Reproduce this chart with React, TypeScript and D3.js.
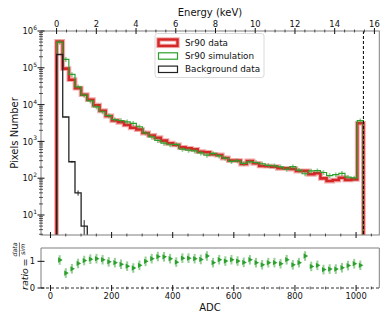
import React from 'react';
import * as d3 from 'd3';

// 50 bins of ~20 ADC between 20 and 1024
const binEdges = d3.range(51).map(i => 20 + i * 20.08);

const dataCounts = [5.2e5, 9.5e4, 4.75e4, 2.8e4, 1.86e4, 1.36e4, 9.6e3, 6.8e3, 4.9e3, 3.7e3,
  3.3e3, 2.8e3, 2.35e3, 2.1e3, 1.69e3, 1.45e3, 1.26e3, 1.05e3, 890, 800,
  690, 650, 610, 525, 505, 446, 427, 354, 303, 300,
  243, 293, 254, 215, 212, 206, 186, 185, 178, 157,
  158, 128, 136, 99, 84, 89, 103, 90, 93, 3100];

const simCounts = [5.0e5, 1.7e5, 6.6e4, 3.04e4, 1.8e4, 1.26e4, 8.7e3, 6.4e3, 5.0e3, 3.9e3,
  3.7e3, 3.4e3, 3.1e3, 2.5e3, 1.69e3, 1.32e3, 1.07e3, 900, 810, 825,
  616, 580, 555, 490, 421, 470, 403, 350, 286, 297,
  253, 276, 267, 247, 223, 217, 204, 175, 205, 165,
  132, 158, 160, 143, 118, 125, 136, 107, 102, 3650];

const bkgCounts = [2.3e5, 4.6e3, 280, 40, 5];

const ratioValues = [1.05, 0.56, 0.72, 0.92, 1.03, 1.08, 1.10, 1.06, 0.98, 0.95,
  0.89, 0.82, 0.75, 0.85, 1.0, 1.10, 1.18, 1.17, 1.10, 0.97,
  1.12, 1.12, 1.10, 1.07, 1.20, 0.95, 1.06, 1.01, 1.06, 1.01,
  0.96, 1.06, 0.95, 0.87, 0.95, 0.95, 0.91, 1.06, 0.87, 0.95,
  1.20, 0.81, 0.85, 0.69, 0.71, 0.71, 0.76, 0.84, 0.91, 0.85];

const simErrFrac = 0.15;
const ratioErr = 0.18;

const adcTicks = [0, 200, 400, 600, 800, 1000];
const keVTicks = [0, 2, 4, 6, 8, 10, 12, 14, 16];
const decadeTicks = [1, 2, 3, 4, 5, 6];
const ratioTicks = [0, 1];
const adcPerKeV = 65;
const adcOffset = 20;
const saturation = 1024;

const W = 390, H = 323;
const L = 41, R = 379.3;
const mainTop = 31, mainBot = 235;
const ratTop = 248, ratBot = 288;
const font = 'DejaVu Sans, sans-serif';

const x = d3.scaleLinear().domain([-31, 1076]).range([L, R]);
const xKeV = d3.scaleLinear()
  .domain([(-31 - adcOffset) / adcPerKeV, (1076 - adcOffset) / adcPerKeV])
  .range([L, R]);
const y = d3.scaleLog().domain([2.86, 1e6]).range([mainBot, mainTop]);
const yr = d3.scaleLinear().domain([0, 1.5]).range([ratBot, ratTop]);

const floor = 0.5;
const line = d3.line<[number, number]>()
  .x(d => x(d[0]))
  .y(d => y(Math.max(d[1], floor)));

function stepPath(vals: number[]) {
  const pts: [number, number][] = [[binEdges[0], floor]];
  vals.forEach((v, i) => {
    pts.push([binEdges[i], v], [binEdges[i + 1], v]);
  });
  pts.push([binEdges[vals.length], floor]);
  return line(pts) || '';
}

const centers = dataCounts.map((_, i) => (binEdges[i] + binEdges[i + 1]) / 2);

export default function App() {
  const minorX = d3.range(50, 1076, 50).filter(v => v % 200 !== 0);
  const minorKeV = d3.range(0, 16.3, 0.5).filter(v => v % 2 !== 0);
  const minorY: number[] = [];
  for (let e = 0; e < 6; e++) {
    for (let m = 2; m <= 9; m++) {
      const v = m * Math.pow(10, e);
      if (v > 2.86 && v < 1e6) minorY.push(v);
    }
  }
  const tri = d3.symbol().type(d3.symbolTriangle).size(12)() || '';

  return (
    <svg width={W} height={H} style={{ position: 'absolute', left: 0, top: 0, background: '#fff' }}
      fontFamily={font}>
      <defs>
        <clipPath id="mainClip">
          <rect x={L} y={mainTop} width={R - L} height={mainBot - mainTop} />
        </clipPath>
      </defs>

      {/* main histograms */}
      <g clipPath="url(#mainClip)">
        <path d={stepPath(dataCounts)} fill="none" stroke="#ee8f8f" strokeWidth={4.8} opacity={0.75} />
        <path d={stepPath(dataCounts)} fill="none" stroke="#d62728" strokeWidth={2.6} />
        <path d={stepPath(simCounts)} fill="none" stroke="#2ca02c" strokeWidth={1.2} />
        {simCounts.map((v, i) => (
          <line key={'se' + i} x1={x(centers[i])} x2={x(centers[i])}
            y1={y(v * (1 - simErrFrac))} y2={y(v * (1 + simErrFrac))}
            stroke="#2ca02c" strokeOpacity={0.55} strokeWidth={1.6} />
        ))}
        <path d={stepPath(bkgCounts)} fill="none" stroke="#222" strokeWidth={1.3} />
        {bkgCounts.map((v, i) => (
          <line key={'be' + i} x1={x(centers[i])} x2={x(centers[i])}
            y1={y(Math.max(v - Math.sqrt(v), floor))} y2={y(v + Math.sqrt(v))}
            stroke="#222" strokeWidth={1} />
        ))}
        <line x1={x(saturation)} x2={x(saturation)} y1={mainTop} y2={mainBot}
          stroke="#000" strokeWidth={1} strokeDasharray="3,2" />
      </g>

      {/* main spines */}
      <rect x={L} y={mainTop} width={R - L} height={mainBot - mainTop} fill="none" stroke="#7f7f7f" strokeWidth={1} />

      {/* bottom ADC ticks on main */}
      {adcTicks.map(t => (
        <line key={'mx' + t} x1={x(t)} x2={x(t)} y1={mainBot - 3} y2={mainBot + 3} stroke="#111" strokeWidth={1} />
      ))}
      {minorX.map(t => (
        <line key={'mnx' + t} x1={x(t)} x2={x(t)} y1={mainBot - 1.5} y2={mainBot + 1.5} stroke="#111" strokeWidth={0.7} />
      ))}

      {/* top energy axis */}
      {keVTicks.map(t => (
        <g key={'k' + t}>
          <line x1={xKeV(t)} x2={xKeV(t)} y1={mainTop - 3} y2={mainTop + 3} stroke="#111" strokeWidth={1} />
          <text x={xKeV(t)} y={27.3} fontSize={8.4} textAnchor="middle" fill="#111">{t}</text>
        </g>
      ))}
      {minorKeV.map(t => (
        <line key={'mk' + t} x1={xKeV(t)} x2={xKeV(t)} y1={mainTop - 1.5} y2={mainTop + 1.5} stroke="#111" strokeWidth={0.7} />
      ))}
      <text x={210} y={16.3} fontSize={10} textAnchor="middle" fill="#111">Energy (keV)</text>

      {/* log y axis */}
      {decadeTicks.map(e => (
        <g key={'d' + e}>
          <line x1={L - 3.5} x2={L + 3.5} y1={y(Math.pow(10, e))} y2={y(Math.pow(10, e))} stroke="#111" strokeWidth={1} />
          <text x={37} y={y(Math.pow(10, e)) + 3.2} fontSize={8.4} textAnchor="end" fill="#111">
            10<tspan dy={-4.2} fontSize={6}>{e}</tspan>
          </text>
        </g>
      ))}
      {minorY.map(v => (
        <line key={'my' + v} x1={L - 2} x2={L + 2} y1={y(v)} y2={y(v)} stroke="#111" strokeWidth={0.7} />
      ))}
      <text transform={`translate(18,${(mainTop + mainBot) / 2}) rotate(-90)`} fontSize={10}
        textAnchor="middle" fill="#111">Pixels Number</text>

      {/* legend */}
      <g>
        <rect x={155} y={33.5} width={109} height={44} rx={2.5} fill="#fff" fillOpacity={0.85} stroke="#d0d0d0" strokeWidth={0.8} />
        <rect x={158.5} y={39.5} width={19} height={6.4} fill="none" stroke="#ee8f8f" strokeWidth={4.4} opacity={0.75} />
        <rect x={158.5} y={39.5} width={19} height={6.4} fill="none" stroke="#d62728" strokeWidth={2.4} />
        <text x={185} y={45.8} fontSize={8.8} fill="#111">Sr90 data</text>
        <rect x={158.5} y={52.8} width={19} height={6.4} fill="none" stroke="#2ca02c" strokeWidth={1.2} />
        <text x={185} y={59.1} fontSize={8.8} fill="#111">Sr90 simulation</text>
        <rect x={158.5} y={66.1} width={19} height={6.4} fill="none" stroke="#222" strokeWidth={1.2} />
        <text x={185} y={72.4} fontSize={8.8} fill="#111">Background data</text>
      </g>

      {/* ratio panel */}
      <line x1={L} x2={L} y1={ratTop} y2={ratBot} stroke="#7f7f7f" />
      <line x1={R} x2={R} y1={ratTop} y2={ratBot} stroke="#7f7f7f" />
      <line x1={L} x2={R} y1={ratTop} y2={ratTop} stroke="#7f7f7f" />
      <line x1={L} x2={R} y1={ratBot} y2={ratBot} stroke="#333" strokeDasharray="3,2" />
      {ratioValues.map((r, i) => (
        <g key={'r' + i}>
          <line x1={x(centers[i])} x2={x(centers[i])} y1={yr(r - ratioErr)} y2={yr(r + ratioErr)}
            stroke="#2ca02c" strokeOpacity={0.5} strokeWidth={2} />
          <path d={tri} transform={`translate(${x(centers[i])},${yr(r)}) rotate(90)`} fill="#2ca02c" />
        </g>
      ))}
      {ratioTicks.map(t => (
        <g key={'rt' + t}>
          <line x1={L - 3.5} x2={L + 3.5} y1={yr(t)} y2={yr(t)} stroke="#111" strokeWidth={1} />
          <text x={35} y={yr(t) + 3.1} fontSize={8.4} textAnchor="end" fill="#111">{t}</text>
        </g>
      ))}
      {adcTicks.map(t => (
        <g key={'rx' + t}>
          <line x1={x(t)} x2={x(t)} y1={ratBot - 3} y2={ratBot + 3} stroke="#111" strokeWidth={1} />
          <text x={x(t)} y={299} fontSize={8.4} textAnchor="middle" fill="#111">{t}</text>
        </g>
      ))}
      {minorX.map(t => (
        <line key={'rmx' + t} x1={x(t)} x2={x(t)} y1={ratBot - 1.5} y2={ratBot + 1.5} stroke="#111" strokeWidth={0.7} />
      ))}
      <text x={210} y={310.7} fontSize={10} textAnchor="middle" fill="#111">ADC</text>

      {/* ratio label: ratio = data/sim */}
      <g transform={`translate(28,290) rotate(-90)`} fill="#111">
        <text x={0} y={0} fontSize={9.5} fontStyle="italic">ratio</text>
        <text x={23.5} y={0} fontSize={9.5}>=</text>
        <text x={40.5} y={-10.8} fontSize={6.3} fontStyle="italic" textAnchor="middle">data</text>
        <line x1={33.5} x2={47.5} y1={-8.6} y2={-8.6} stroke="#111" strokeWidth={0.6} />
        <text x={40.5} y={-3.2} fontSize={6.3} fontStyle="italic" textAnchor="middle">sim</text>
      </g>
    </svg>
  );
}
